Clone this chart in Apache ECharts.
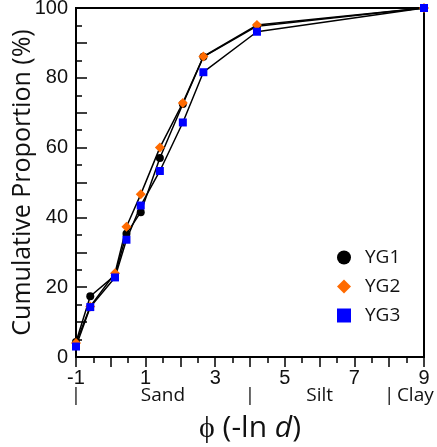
<!DOCTYPE html>
<html><head><meta charset="utf-8">
<script src="https://cdn.jsdelivr.net/npm/echarts@6/dist/echarts.min.js"></script>
<style>html,body{margin:0;padding:0;background:#fff}#c{width:437px;height:447px}</style>
</head><body><div id="c"></div>
<script>
var phi = [-1, -0.59, 0.12, 0.45, 0.86, 1.41, 2.07, 2.66, 4.2, 9];
var YG1 = [4.3, 17.4, 23.4, 35.3, 41.5, 57.0, 72.5, 86.0, 94.8, 100];
var YG2 = [4.0, 14.5, 24.0, 37.3, 46.6, 60.0, 72.8, 86.1, 95.1, 100];
var YG3 = [3.0, 14.3, 22.8, 33.6, 43.4, 53.3, 67.2, 81.6, 93.2, 100];
var xTickLabels = ['-1', '1', '3', '5', '7', '9'];
var yTickLabels = ['0', '20', '40', '60', '80', '100'];
var classLabels = [[-1, '|'], [1.5, 'Sand'], [4, '|'], [6, 'Silt'], [8, '|'], [8.75, 'Clay']];

function pairs(ys){ return phi.map(function(x,i){ return [x, ys[i]]; }); }
var classMap = {};
classLabels.forEach(function(p){ classMap[p[0].toFixed(2)] = p[1]; });

var chart = echarts.init(document.getElementById('c'));
var txt = '#111';
function mk(name, data, sym, size, color){
  return {name:name, type:'line', data:pairs(data), symbol:sym, symbolSize:size,
    lineStyle:{color:'#000', width:1.5}, itemStyle:{color:color}, z:2, animation:false};
}
chart.setOption({
  animation:false,
  grid:{left:76, right:13, top:8, bottom:90, containLabel:false, outerBoundsMode:'none',
    show:true, borderColor:'#000', borderWidth:2},
  legend:{orient:'vertical', left:332, top:243, itemGap:10, itemWidth:14, itemHeight:14,
    textStyle:{fontFamily:'Open Sans', fontSize:19, color:txt, padding:[0,0,0,9]},
    data:[{name:'YG1', icon:'circle'},{name:'YG2', icon:'diamond'},{name:'YG3', icon:'rect'}]},
  xAxis:[{
    type:'value', min:-1, max:9, interval:1,
    name:'{a|ϕ (-ln }{b|d}{a|)}', nameLocation:'middle', nameGap:56, nameMoveOverlap:false,
    nameTextStyle:{rich:{a:{fontFamily:'Open Sans', fontSize:30, color:txt}, b:{fontFamily:'Open Sans', fontSize:30, fontStyle:'italic', color:txt}}},
    axisLine:{show:true, onZero:false, lineStyle:{color:'#000', width:2}},
    axisTick:{show:true, inside:false, length:10, lineStyle:{color:'#000', width:1.5}},
    minorTick:{show:true, splitNumber:2, length:6, lineStyle:{color:'#000', width:1.5}},
    splitLine:{show:false},
    axisLabel:{margin:11, fontFamily:'Liberation Sans', fontSize:20, color:txt,
      formatter:function(v){ var s=String(v); return xTickLabels.indexOf(s)>=0 ? s : ''; }}
  },{
    type:'value', min:-1, max:9, interval:0.25, position:'bottom', offset:29,
    axisLine:{show:false}, axisTick:{show:false}, splitLine:{show:false},
    axisLabel:{margin:0, fontFamily:'Open Sans', fontSize:19, color:txt, showMinLabel:true, showMaxLabel:true,
      formatter:function(v){ return classMap[Number(v).toFixed(2)] || ''; }}
  }],
  yAxis:{
    type:'value', min:0, max:100, interval:10,
    name:'Cumulative Proportion (%)', nameLocation:'middle', nameGap:41, nameMoveOverlap:false,
    nameTextStyle:{fontFamily:'Open Sans', fontSize:25, color:txt},
    axisLine:{show:true, onZero:false, lineStyle:{color:'#000', width:2}},
    axisTick:{show:true, inside:true, length:11, lineStyle:{color:'#000', width:1.5}},
    minorTick:{show:true, splitNumber:2, length:6, lineStyle:{color:'#000', width:1.5}},
    splitLine:{show:false},
    axisLabel:{margin:8, fontFamily:'Liberation Sans', fontSize:20, color:txt,
      formatter:function(v){ var s=String(v); return yTickLabels.indexOf(s)>=0 ? s : ''; }}
  },
  series:[
    mk('YG1', YG1, 'circle', 8, '#000'),
    mk('YG2', YG2, 'diamond', 10, '#ff6a00'),
    mk('YG3', YG3, 'rect', 8, '#0000ff')
  ]
});
</script></body></html>
